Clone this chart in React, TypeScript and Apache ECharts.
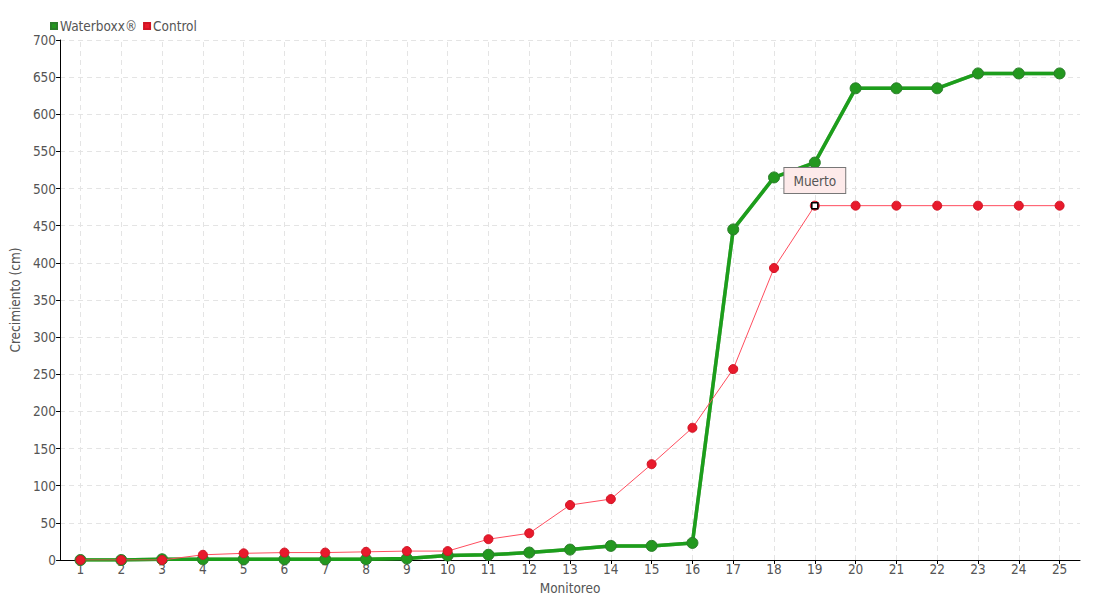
import React, { useEffect, useRef } from "react";
import * as echarts from "echarts";

const categories = ["1","2","3","4","5","6","7","8","9","10","11","12","13","14","15","16","17","18","19","20","21","22","23","24","25"];
const waterboxx = [0, 0, 1, 1, 1, 1, 1, 1, 2, 6, 7, 10, 14, 19, 19, 23, 445, 515, 535, 635, 635, 635, 655, 655, 655];
const control = [0, 0, 0, 7, 9, 10, 10, 11, 12, 12, 28, 36, 74, 82, 129, 178, 257, 393, 477, 477, 477, 477, 477, 477, 477];
const annotationIndex = 18;
const annotationText = "Muerto";

const FONT = "'DejaVu Sans Condensed', 'Liberation Sans Narrow', sans-serif";

export default function App() {
  const ref = useRef<HTMLDivElement>(null);
  useEffect(() => {
    if (!ref.current) return;
    const chart = echarts.init(ref.current, null, { renderer: "svg" });
    chart.setOption({
      animation: false,
      textStyle: { fontFamily: FONT },
      legend: {
        data: ["Waterboxx®", "Control"],
        left: 45,
        top: 14,
        icon: "rect",
        itemWidth: 6,
        itemHeight: 6,
        itemGap: 6,
        textStyle: { fontFamily: FONT, fontSize: 13.5, color: "#555", padding: [0, 0, 0, -2] },
      },
      grid: { left: 60, right: 20, top: 40, bottom: 40 },
      xAxis: {
        type: "category",
        data: categories,
        boundaryGap: true,
        name: "Monitoreo",
        nameLocation: "middle",
        nameGap: 20,
        nameTextStyle: { fontFamily: FONT, fontSize: 13.5, color: "#555" },
        axisLine: { lineStyle: { color: "#000", width: 1 } },
        axisTick: { show: true, alignWithLabel: true, length: 4, lineStyle: { color: "#000" } },
        axisLabel: { fontFamily: FONT, fontSize: 13.5, color: "#555", margin: 2 },
        splitLine: { show: false },
      },
      yAxis: {
        type: "value",
        min: 0,
        max: 700,
        interval: 50,
        name: "Crecimiento (cm)",
        nameLocation: "middle",
        nameGap: 35,
        nameTextStyle: { fontFamily: FONT, fontSize: 13.5, color: "#555" },
        axisLine: { show: true, lineStyle: { color: "#000", width: 1 } },
        axisTick: { show: true, length: 4, lineStyle: { color: "#000" } },
        axisLabel: { fontFamily: FONT, fontSize: 13.5, color: "#555", margin: 4 },
        splitLine: { show: true, lineStyle: { color: "#e4e4e4", type: [5, 4] } },
      },
      series: [
        {
          name: "grid",
          type: "line",
          data: [],
          z: 0,
          silent: true,
          markLine: {
            silent: true,
            z: 0,
            symbol: "none",
            label: { show: false },
            emphasis: { disabled: true },
            lineStyle: { color: "#e4e4e4", type: [5, 4], width: 1 },
            data: categories.map((c) => ({ xAxis: c })),
          },
        },
        {
          name: "Waterboxx®",
          type: "line",
          data: waterboxx,
          z: 3,
          symbol: "circle",
          symbolSize: 11,
          lineStyle: { color: "#1f9e1a", width: 3.5, shadowColor: "rgba(40,120,40,0.6)", shadowBlur: 1.5 },
          itemStyle: { color: "#23981f", borderColor: "#2b7d2b", borderWidth: 1 },
        },
        {
          name: "Control",
          type: "line",
          data: control,
          z: 4,
          symbol: "circle",
          symbolSize: 9,
          lineStyle: { color: "#ff4d5e", width: 1 },
          itemStyle: { color: "#e81a2c", borderColor: "#d01424", borderWidth: 1 },
          markPoint: {
            z: 6,
            symbol: "rect",
            symbolSize: 6,
            itemStyle: { color: "#fff", borderColor: "#000", borderWidth: 1.5 },
            label: {
              show: true,
              position: "top",
              distance: 9,
              formatter: annotationText,
              fontFamily: FONT,
              fontSize: 13.5,
              color: "#555",
              backgroundColor: "#fdeaea",
              borderColor: "#777",
              borderWidth: 1,
              padding: [6, 9, 5, 9],
            },
            data: [{ coord: [annotationIndex, control[annotationIndex]] }],
          },
        },
      ],
    });
    return () => chart.dispose();
  }, []);
  return <div ref={ref} style={{ position: "absolute", left: 0, top: 0, width: 1100, height: 600 }} />;
}
